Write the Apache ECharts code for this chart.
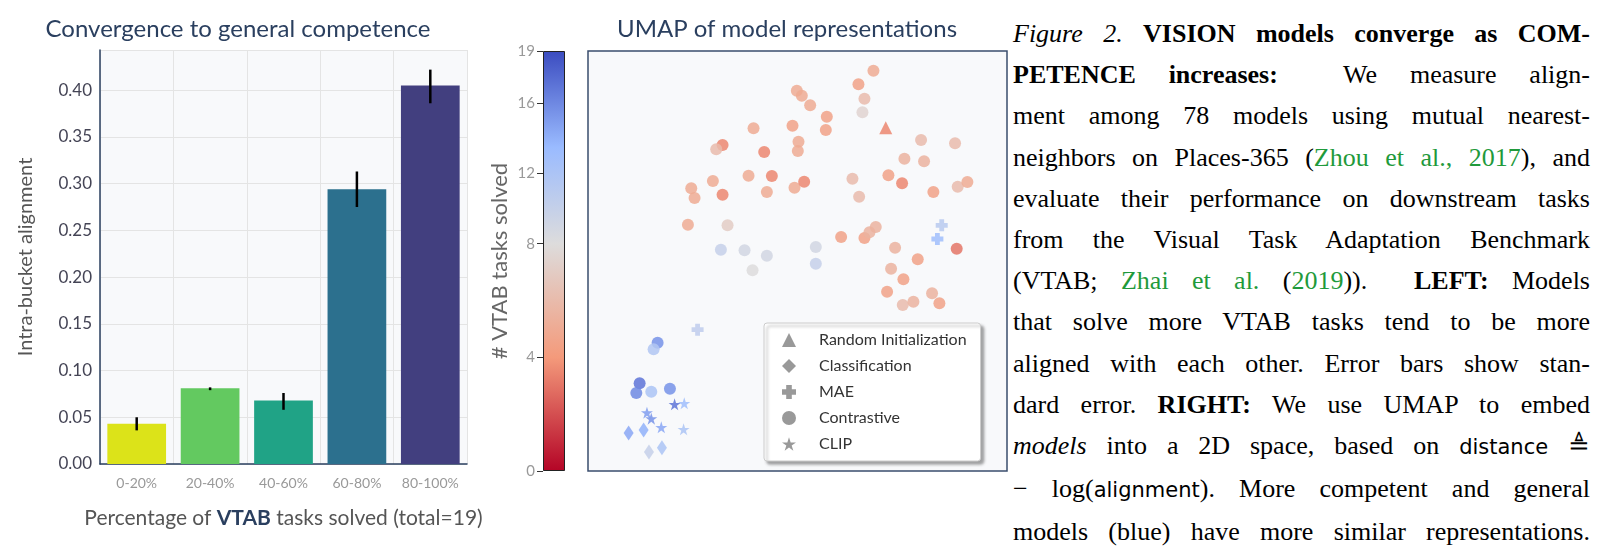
<!DOCTYPE html>
<html><head><meta charset="utf-8">
<script src="https://cdn.jsdelivr.net/npm/echarts@6/dist/echarts.min.js"></script>
<style>
body{margin:0;background:#fff;}
#c{position:absolute;left:0;top:0;width:1010px;height:548px;}
#cap{position:absolute;left:1013px;top:13px;width:577px;font-family:"Liberation Serif",serif;font-size:26px;line-height:41.2px;color:#000;}
#cap div{text-align:justify;text-align-last:justify;white-space:nowrap;}
#cap .g{color:#1f9a3b;}
#cap .s{font-family:"DejaVu Sans",sans-serif;font-size:21px;}
</style></head><body>
<div id="c"></div>
<div id="cap">
<div><i>Figure 2.</i> <b>VISION models converge as COM-</b></div>
<div><b>PETENCE increases:</b>&nbsp; We measure align-</div>
<div>ment among 78 models using mutual nearest-</div>
<div>neighbors on Places-365 (<span class="g">Zhou et al., 2017</span>), and</div>
<div>evaluate their performance on downstream tasks</div>
<div>from the Visual Task Adaptation Benchmark</div>
<div>(VTAB; <span class="g">Zhai et al.</span> (<span class="g">2019</span>)).&nbsp; <b>LEFT:</b> Models</div>
<div>that solve more VTAB tasks tend to be more</div>
<div>aligned with each other. Error bars show stan-</div>
<div>dard error. <b>RIGHT:</b> We use UMAP to embed</div>
<div><i>models</i> into a 2D space, based on <span class="s">distance</span> ≜</div>
<div>− log(<span class="s">alignment</span>). More competent and general</div>
<div>models (blue) have more similar representations.</div>
</div>
<script>
// ---- data ----
const buckets = ['0-20%','20-40%','40-60%','60-80%','80-100%'];
const alignment = [0.043,0.081,0.068,0.294,0.405];
const errLow = [0.036,0.079,0.058,0.275,0.386];
const errHigh = [0.050,0.082,0.076,0.313,0.422];
const barColors = ['#dce319','#63c960','#20a386','#2c708e','#423f7f'];
// UMAP points: [x, y, vtab tasks solved]
const contrastive = [[1180,212,5],[1135,253,4.5],[1153,296,6],[1147,337,7.5],[950,272,5],[965,287,5],[990,316,5],[1040,350,4.5],[1037,390,4.5],[937,377,4.5],[820,385,5],[955,425,5],[953,453,5],[852,456,3.5],[727,435,3.5],[708,448,6],[698,543,5],[633,565,5],[643,594,5],[727,584,3.5],[805,527,5],[875,528,3.5],[860,576,5],[943,563,5],[972,545,3.5],[1117,536,6],[1137,590,6],[1225,526,4.5],[1266,550,3.5],[1273,476,5.5],[1323,420,6],[1332,484,5.5],[1425,430,6],[1433,560,6],[1462,546,5],[1360,576,4.5],[623,674,5],[742,676,7],[1083,711,4.5],[1153,714,4.5],[1168,697,5.5],[1187,681,5.5],[1245,743,5.5],[1313,778,4.5],[1430,746,3],[1233,806,5.5],[1270,838,4.5],[1221,875,4.5],[1268,915,6],[1300,905,5.5],[1356,880,5.5],[1378,910,4.5],
 [722,749,10],[793,751,9],[860,767,9],[817,811,8],[1007,741,9],[1007,791,10],
 [532,1028,15.5],[520,1048,11.5],[478,1150,17],[468,1179,16],[513,1175,12],[569,1166,15.5]];
const mae = [[1385,676,11],[1372,717,13],[652,989,10.5]];
const randomInit = [[1217,383,3.5]];
const clip = [[583,1213,17],[612,1210,13],[500,1238,15],[513,1256,15.5],[543,1282,14.5],[610,1288,12]];
const classification = [[445,1299,14.5],[490,1290,14],[506,1356,10],[545,1343,12]];
const cbTicks = [0,4,8,12,16,19];
const cbCenter = 8, cbMax = 19;

// ---- helpers ----
const cbSplit = 682/1260;
function norm(v){ return v<=cbCenter ? v/cbCenter*cbSplit : cbSplit+(v-cbCenter)/(cbMax-cbCenter)*(1-cbSplit); }
function tnorm(v){ return v<=cbCenter ? 0.5*v/cbCenter : 0.5+0.5*(v-cbCenter)/(cbMax-cbCenter); }
const cw = [[0,[180,4,38]],[0.25,[244,154,123]],[0.5,[221,220,220]],[0.75,[154,187,255]],[1,[59,76,192]]];
function cmap(v){
  const t=tnorm(v);
  for(let i=1;i<cw.length;i++){ if(t<=cw[i][0]){ const a=cw[i-1],b=cw[i],f=(t-a[0])/(b[0]-a[0]);
    const c=a[1].map((x,k)=>Math.round(x+(b[1][k]-x)*f)); return 'rgb('+c.join(',')+')'; } }
  return 'rgb(59,76,192)';
}
const toPts = arr => arr.map(p=>({value:[p[0],1413-p[1]],itemStyle:{color:cmap(p[2]),opacity:0.85}}));
const plusPath='path://M3,0h4v3h3v4h-3v3h-4v-3h-3v-4h3z';
const starPath='path://M5,0L6.2,3.6L10,3.6L6.9,5.8L8.1,9.5L5,7.2L1.9,9.5L3.1,5.8L0,3.6L3.8,3.6Z';
const navy='#2a3f5f', F='Lato';

const chart=echarts.init(document.getElementById('c'));
chart.setOption({
  animation:false,
  textStyle:{fontFamily:F},
  title:[
    {text:'Convergence to general competence',left:233,top:12,textAlign:'center',textStyle:{fontFamily:F,fontSize:24,fontWeight:'normal',color:navy}},
    {text:'UMAP of model representations',left:782,top:12,textAlign:'center',textStyle:{fontFamily:F,fontSize:24,fontWeight:'normal',color:navy}}
  ],
  grid:[
    {left:100,top:50,width:367,height:414,backgroundColor:'#f8f9fb',show:true,borderWidth:0},
    {left:543,top:51,width:22,height:420},
    {left:588,top:51,width:419,height:420,show:true,backgroundColor:'#f8f9fb',borderColor:'#3a4d6e',borderWidth:1.5}
  ],
  xAxis:[
    {gridIndex:0,type:'category',data:buckets,axisLine:{lineStyle:{color:navy,width:1.5}},axisTick:{show:false},
     splitLine:{show:true,lineStyle:{color:'#e4e4e4'}},axisLabel:{color:'#999',fontSize:14,margin:12,interval:0},
     name:'{a|Percentage of }{b|VTAB}{a| tasks solved (total=19)}',nameLocation:'middle',nameGap:44,
     nameTextStyle:{rich:{a:{fontSize:21,color:'#555',fontFamily:F},b:{fontSize:21,color:navy,fontWeight:'bold',fontFamily:F}}}},
    {gridIndex:1,type:'category',data:['cb'],show:false},
    {gridIndex:2,type:'value',min:323,max:1581,show:false}
  ],
  yAxis:[
    {gridIndex:0,type:'value',min:0,max:0.443,interval:0.05,axisLine:{show:true,lineStyle:{color:navy,width:1.5}},
     axisTick:{show:false},splitLine:{lineStyle:{color:'#e4e4e4'}},
     axisLabel:{color:'#445',fontSize:17,formatter:v=>v>0.41?'':v.toFixed(2)},
     name:'Intra-bucket alignment',nameLocation:'middle',nameGap:64,nameTextStyle:{fontSize:20,color:'#555'}},
    {gridIndex:1,type:'value',min:0,max:1,axisLine:{show:false},splitLine:{show:false},
     axisTick:{show:true,length:6,lineStyle:{color:'#333'},customValues:cbTicks.map(norm)},
     axisLabel:{color:'#999',fontSize:15,customValues:cbTicks.map(norm),formatter:v=>{let b=cbTicks[0];cbTicks.forEach(t=>{if(Math.abs(norm(t)-v)<Math.abs(norm(b)-v))b=t;});return b;}},
     name:'# VTAB tasks solved',nameLocation:'middle',nameGap:32,nameTextStyle:{fontSize:22,color:'#666'}},
    {gridIndex:2,type:'value',min:0,max:1260,show:false}
  ],
  legend:{orient:'vertical',left:764,top:323,itemGap:10,itemWidth:14,itemHeight:14,
    backgroundColor:'#fff',borderColor:'#ccc',borderWidth:1,borderRadius:3,padding:[9,14,9,18],
    shadowColor:'rgba(0,0,0,0.35)',shadowBlur:3,shadowOffsetX:3,shadowOffsetY:3,
    textStyle:{fontSize:16,color:'#333',padding:[0,0,0,18]},
    data:[
      {name:'Random Initialization',icon:'triangle',itemStyle:{color:'#999',opacity:1}},
      {name:'Classification',icon:'diamond',itemStyle:{color:'#999',opacity:1}},
      {name:'MAE',icon:plusPath,itemStyle:{color:'#999',opacity:1}},
      {name:'Contrastive',icon:'circle',itemStyle:{color:'#999',opacity:1}},
      {name:'CLIP',icon:starPath,itemStyle:{color:'#999',opacity:1}}
    ]},
  series:[
    {type:'bar',xAxisIndex:0,yAxisIndex:0,barCategoryGap:'20%',
     data:alignment.map((v,i)=>({value:v,itemStyle:{color:barColors[i]}}))},
    {type:'custom',xAxisIndex:0,yAxisIndex:0,z:5,data:buckets.map((b,i)=>[i,errLow[i],errHigh[i]]),
     renderItem:(p,api)=>{const a=api.coord([api.value(0),api.value(1)]),b=api.coord([api.value(0),api.value(2)]);
       return {type:'line',shape:{x1:a[0],y1:a[1],x2:b[0],y2:b[1]},style:{stroke:'#000',lineWidth:2.5}};}},
    {type:'bar',xAxisIndex:1,yAxisIndex:1,barWidth:'100%',silent:true,
     data:[{value:1,itemStyle:{borderColor:'#222',borderWidth:1,color:new echarts.graphic.LinearGradient(0,1,0,0,[
       {offset:0,color:'#b40426'},{offset:cbSplit/2,color:'#f49a7b'},{offset:cbSplit,color:'#dddcdc'},
       {offset:cbSplit+(1-cbSplit)/2,color:'#9abbff'},{offset:1,color:'#3b4cc0'}])}}]},
    {name:'Contrastive',type:'scatter',xAxisIndex:2,yAxisIndex:2,symbol:'circle',symbolSize:12,data:toPts(contrastive)},
    {name:'MAE',type:'scatter',xAxisIndex:2,yAxisIndex:2,symbol:plusPath,symbolSize:12,data:toPts(mae)},
    {name:'Random Initialization',type:'scatter',xAxisIndex:2,yAxisIndex:2,symbol:'triangle',symbolSize:13,data:toPts(randomInit)},
    {name:'CLIP',type:'scatter',xAxisIndex:2,yAxisIndex:2,symbol:starPath,symbolSize:12,data:toPts(clip)},
    {name:'Classification',type:'scatter',xAxisIndex:2,yAxisIndex:2,symbol:'diamond',symbolSize:[10,15],data:toPts(classification)}
  ]
});
</script></body></html>
